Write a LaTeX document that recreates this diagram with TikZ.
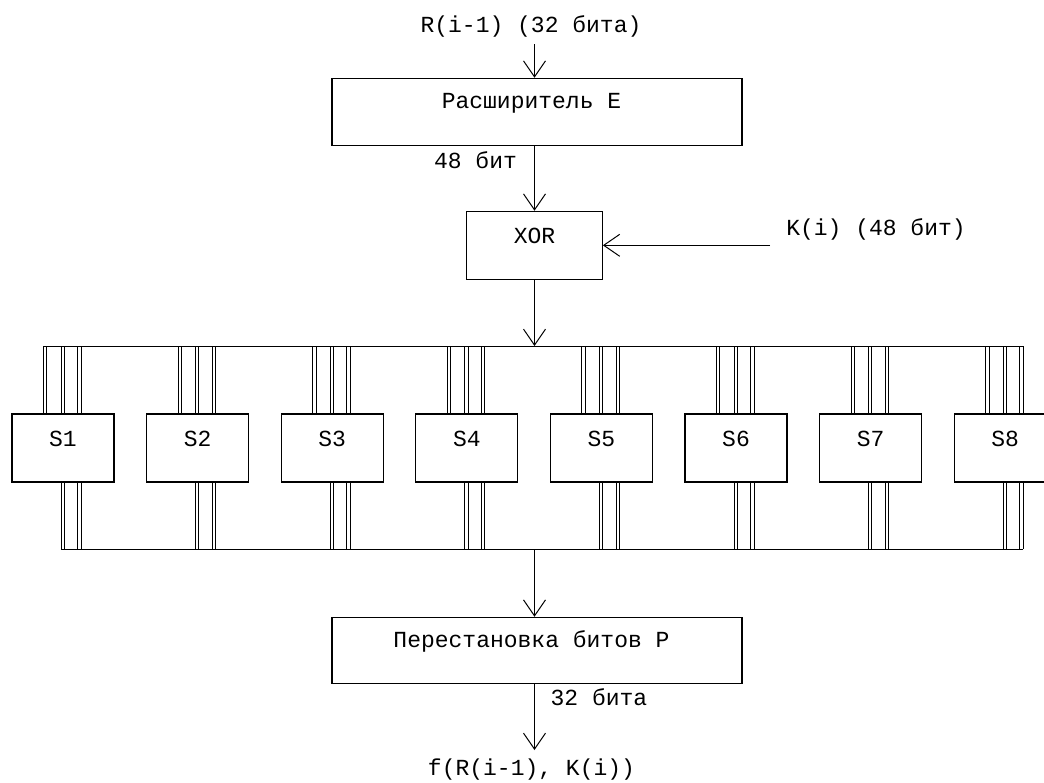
\documentclass[tikz,border=0pt]{standalone}
\usepackage{fontspec}
\newfontfamily\monof{Liberation Mono}
\usetikzlibrary{arrows.meta}
\begin{document}
\begin{tikzpicture}[x=1pt,y=-1pt,
  line width=1pt,
  box/.style={draw, line width=1.1pt, inner sep=0pt},
  txt/.style={font=\monof\fontsize{23}{23}\selectfont, inner sep=0pt, anchor=base},
  arr/.style={-{Straight Barb[length=16pt,width=22pt]}},
  wire/.style={line width=0.8pt}
]
\useasboundingbox (0,0) rectangle (1044,782);
\clip (0,0) rectangle (1044,782);

% top part
\node[box, minimum width=410pt, minimum height=67.4pt] (E) at (537,112) {};
\node[txt] (Et) at (531.5,108) {Расширитель E};
\node[box, minimum width=135.6pt, minimum height=68pt] (X) at (534.5,245.3) {};
\node[txt] (Xt) at (534.5,243) {XOR};
\node[txt] (Rt) at (531,32) {R(i-1) (32 бита)};
\coordinate (rin) at (534.5,44);
\draw[arr] (rin) -- (rin |- E.north);
\node[txt] (bits48) at (475.5,168) {48 бит};
\draw[arr] (X.north |- E.south) -- (X.north);
\node[txt] (Kt) at (876,235) {K(i) (48 бит)};
\coordinate (kin) at (770,245.3);
\draw[arr] (kin) -- (X.east);

% buses
\coordinate (bt) at (0,346);
\coordinate (bb) at (0,549);

% S boxes
\foreach \k in {1,...,8}{
  \pgfmathsetmacro\L{12+134.6*(\k-1)}
  \node[box, minimum width=102pt, minimum height=68pt] (S\k) at (\L+51,448) {};
  \node[txt] (S\k t) at (\L+51,446) {S\k};
  \foreach \o in {32,49.5,66.2}{
    \draw[wire] ([xshift=\o pt]S\k.north west) -- ([xshift=\o pt]S\k.north west |- bt);
    \draw[wire] ([xshift=\o pt+3.3pt]S\k.north west) -- ([xshift=\o pt+3.3pt]S\k.north west |- bt);
  }
  \foreach \o in {49.5,66.2}{
    \draw[wire] ([xshift=\o pt]S\k.south west) -- ([xshift=\o pt]S\k.south west |- bb);
    \draw[wire] ([xshift=\o pt+3.3pt]S\k.south west) -- ([xshift=\o pt+3.3pt]S\k.south west |- bb);
  }
}
\draw[wire] ([xshift=32pt]S1.north west |- bt) -- ([xshift=69.5pt]S8.north west |- bt);
\draw[wire] ([xshift=49.5pt]S1.south west |- bb) -- ([xshift=69.5pt]S8.south west |- bb);

\draw[arr] (X.south) -- (X.south |- bt);

% bottom part
\node[box, minimum width=410pt, minimum height=66pt] (P) at (537,650.3) {};
\node[txt] (Pt) at (531.5,647) {Перестановка битов P};
\draw[arr] (X.south |- bb) -- (X.south |- P.north);
\node[txt] (bits32) at (599,705) {32 бита};
\coordinate (fo) at (534.5,750);
\draw[arr] (X.south |- P.south) -- (fo);
\node[txt] (ft) at (531.5,775) {f(R(i-1), K(i))};
\end{tikzpicture}
\end{document}
